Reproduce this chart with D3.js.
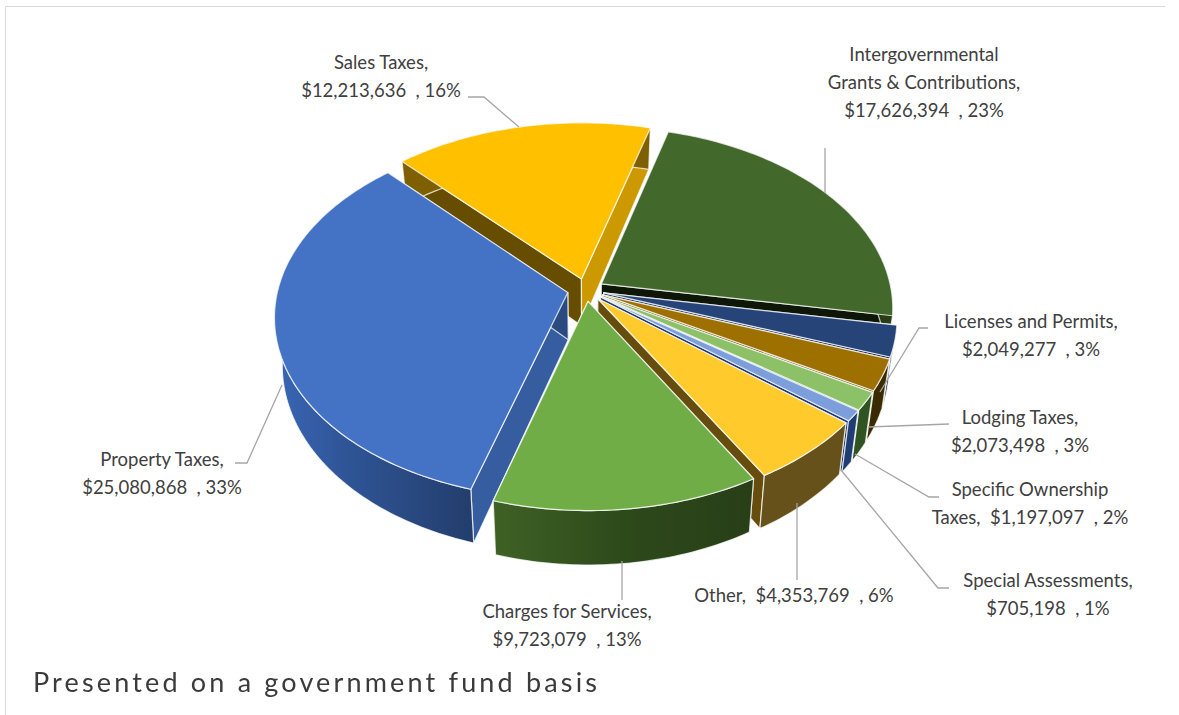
<!DOCTYPE html>
<html>
<head>
<meta charset="utf-8">
<script src="https://cdn.jsdelivr.net/npm/d3@7"></script>
<style>
  html, body { margin: 0; padding: 0; background: #fff; }
  text { font-family: Lato, "Open Sans", sans-serif; fill: #404040; white-space: pre; }
</style>
</head>
<body>
<div id="chart"></div>
<script>
// Revenue data, clockwise from the top of the pie
var categories = ["Intergovernmental|Grants & Contributions", "Licenses and Permits", "Lodging Taxes",
    "Specific Ownership|Taxes", "Special Assessments", "Other", "Charges for Services",
    "Property Taxes", "Sales Taxes"];
var amounts = [17626394, 2049277, 2073498, 1197097, 705198, 4353769, 9723079, 25080868, 12213636];
var percents = [23, 3, 3, 2, 1, 6, 13, 33, 16];
var footnote = "Presented on a government fund basis";

// Colours per slice: top face, outer wall, first cut wall, second cut wall
var topColors = ["#43682B", "#264478", "#9E7000", "#8CC168", "#7C9FDC", "#FFCA2C", "#70AD47", "#4472C4", "#FFC000"];
var wallColors = ["#263D18", "#172A4C", "#3B2B00", "#2F5422", "#203C72", "#66511A", "url(#wallGreen)", "url(#wallBlue)", "#7F6000"];
var startWallColors = ["#263D18", "#172A4C", "#3B2B00", "#2F5422", "#203C72", "#66511A", "#3A5A20", "#355DA0", "#664D00"];
var endWallColors = ["#0D1607", "#172A4C", "#5F4500", "#2F5422", "#203C72", "#664D0E", "#2A3F17", "#2B4A80", "#CC9900"];

// Draw order, back to front
var drawOrder = [8, 0, 1, 2, 3, 4, 5, 7, 6];

// Label layout: centre x, first line y, whether the amount stays on the last name line
var labelX = [924, 1031, 1020, 1030, 1048, 794, 567, 162, 381];
var labelY = [55, 322, 418, 490, 581, 596, 612, 460, 63];
var labelJoin = [false, false, false, true, false, true, false, false, false];
// Leader lines, from the label to the slice
var leaders = [
    [[825, 193], [825, 148]],
    [[928, 328], [919, 328], [880, 392]],
    [[949, 424], [868, 427]],
    [[939, 497], [929, 497], [855, 454]],
    [[949, 588], [938, 588], [841, 470]],
    [[797, 580], [797, 503]],
    [[622, 600], [622, 561]],
    [[235, 463], [247, 463], [282, 385]],
    [[468, 97], [484, 97], [519, 127]]
];

var width = 1179;
var height = 715;

// Pie shape
var cx = 585.8, cy = 290;
var rx = 290, ry = 179;
var perspective = 0.129;
var explode = 0.0637;
var depth = 47;
var bottomShrink = 0.975;
var startDeg = 15.5;

var svg = d3.select("#chart").append("svg")
    .attr("width", width)
    .attr("height", height)
    .style("display", "block");

// Wall gradients
var defs = svg.append("defs");
function addGradient(id, stops) {
    var g = defs.append("linearGradient").attr("id", id)
        .attr("x1", 0).attr("y1", 0).attr("x2", 1).attr("y2", 0);
    stops.forEach(s => g.append("stop").attr("offset", s[0]).attr("stop-color", s[1]));
}
addGradient("wallBlue", [[0, "#3A66B5"], [0.35, "#2F5597"], [1, "#233D6C"]]);
addGradient("wallGreen", [[0, "#3F6125"], [0.5, "#2D4A1B"], [1, "#283E17"]]);
defs.append("filter").attr("id", "soft")
    .append("feGaussianBlur").attr("stdDeviation", 0.45);

// Frame
svg.append("path")
    .attr("d", "M5.5,715V6.5H1165")
    .attr("fill", "none")
    .attr("stroke", "#D9D9D9");

var pie = d3.pie()
    .sort(null)
    .startAngle(startDeg * Math.PI / 180)
    .endAngle((startDeg + 360) * Math.PI / 180);
var arcs = pie(amounts);

// Point on the disc seen in perspective; z = 0 top plane, z = 1 bottom plane
function project(angle, r, z, mid) {
    var u = r * Math.sin(angle) + explode * Math.sin(mid);
    var v = -r * Math.cos(angle) - explode * Math.cos(mid);
    var s = 1 / (1 - perspective * v);
    var shrink = z ? bottomShrink : 1;
    return [cx + rx * u * s * shrink, cy + ry * v * s + z * depth * s];
}

var line = d3.line();

function rimPoints(d, z, mid) {
    var n = Math.max(4, Math.ceil((d.endAngle - d.startAngle) / 0.02));
    return d3.range(n + 1).map(i => {
        var a = d.startAngle + (d.endAngle - d.startAngle) * i / n;
        return project(a, 1, z, mid);
    });
}

var slices = svg.append("g").attr("class", "slices");

function face(g, pts, fill, cls) {
    g.append("path")
        .attr("class", cls)
        .attr("d", line(pts) + "Z")
        .attr("fill", fill)
        .attr("stroke", "#fff")
        .attr("stroke-opacity", 0.75)
        .attr("stroke-width", 1.2)
        .attr("stroke-linejoin", "round");
}

drawOrder.forEach(function(i) {
    var d = arcs[i];
    var mid = (d.startAngle + d.endAngle) / 2;
    var g = slices.append("g");
    var topRim = rimPoints(d, 0, mid);
    var botRim = rimPoints(d, 1, mid);
    var apexTop = project(0, 0, 0, mid);
    var apexBot = project(0, 0, 1, mid);

    face(g, [apexTop, topRim[0], botRim[0], apexBot], startWallColors[i], "start-wall");
    face(g, [apexTop, topRim[topRim.length - 1], botRim[botRim.length - 1], apexBot], endWallColors[i], "end-wall");
    face(g, topRim.concat(botRim.slice().reverse()), wallColors[i], "outer-wall");
    face(g, [apexTop].concat(topRim), topColors[i], "top");
});

// Leader lines
svg.append("g").selectAll("path")
    .data(leaders)
    .enter()
    .append("path")
    .attr("d", d => line(d))
    .attr("fill", "none")
    .attr("stroke", "#A6A6A6")
    .attr("stroke-width", 1.3);

// Data labels
var money = d3.format("$,");
var labels = svg.append("g").attr("class", "labels");
categories.forEach(function(name, i) {
    var lines = name.split("|");
    var amountText = money(amounts[i]) + "  , " + percents[i] + "%";
    lines[lines.length - 1] += ",";
    if (labelJoin[i]) {
        lines[lines.length - 1] += "  " + amountText;
    } else {
        lines.push(amountText);
    }
    lines.forEach(function(t, j) {
        labels.append("text")
            .attr("x", labelX[i])
            .attr("y", labelY[i] + j * 28)
            .attr("dy", "0.35em")
            .attr("text-anchor", "middle")
            .style("font-size", "18.5px")
            .text(t);
    });
});

// Footnote under the chart
svg.append("text")
    .attr("x", 33)
    .attr("y", 692)
    .attr("textLength", 564)
    .attr("lengthAdjust", "spacing")
    .attr("filter", "url(#soft)")
    .style("font-size", "27px")
    .style("fill", "#3A3A3A")
    .text(footnote);
</script>
</body>
</html>
